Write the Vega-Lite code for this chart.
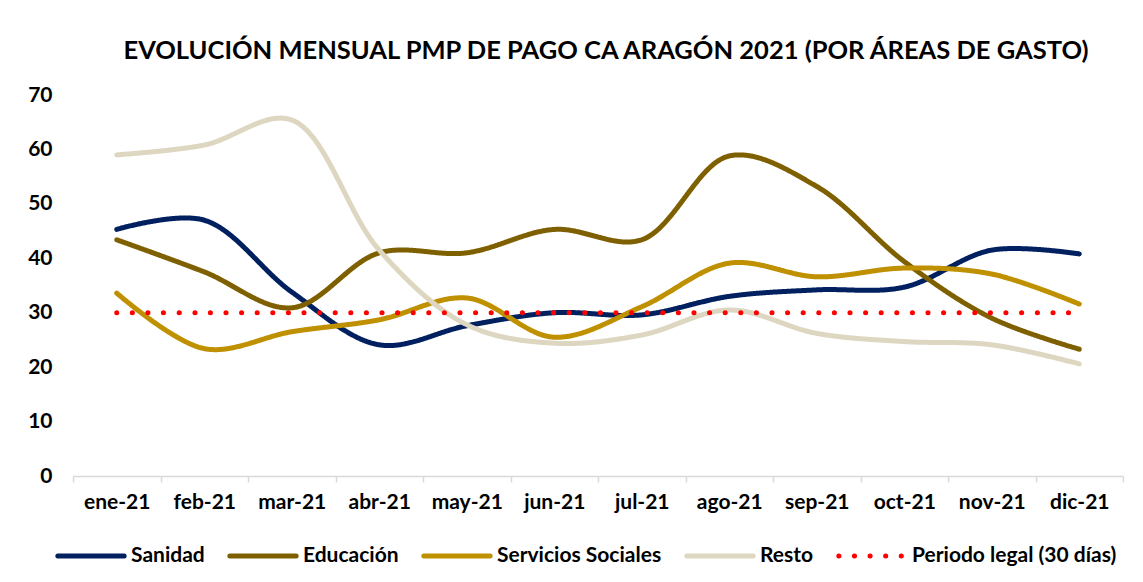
{
  "$schema": "https://vega.github.io/schema/vega-lite/v6.json",
  "width": 1050,
  "height": 381,
  "autosize": {"type": "none"},
  "padding": {"left": 73, "top": 95, "right": 20, "bottom": 106},
  "background": "white",
  "title": {
    "text": "EVOLUCIÓN MENSUAL PMP DE PAGO CA ARAGÓN 2021 (POR ÁREAS DE GASTO)",
    "font": "Lato",
    "fontSize": 25.5,
    "fontWeight": "bold",
    "color": "#000000",
    "anchor": "middle",
    "dx": 8,
    "offset": 20
  },
  "config": {
    "view": {"stroke": null},
    "font": "Lato"
  },
  "data": {
    "values": [
      {"mes": "ene-21", "serie": "Sanidad", "valor": 45.3},
      {"mes": "feb-21", "serie": "Sanidad", "valor": 47.0},
      {"mes": "mar-21", "serie": "Sanidad", "valor": 33.8},
      {"mes": "abr-21", "serie": "Sanidad", "valor": 24.1},
      {"mes": "may-21", "serie": "Sanidad", "valor": 27.6},
      {"mes": "jun-21", "serie": "Sanidad", "valor": 30.0},
      {"mes": "jul-21", "serie": "Sanidad", "valor": 29.6},
      {"mes": "ago-21", "serie": "Sanidad", "valor": 33.0},
      {"mes": "sep-21", "serie": "Sanidad", "valor": 34.2},
      {"mes": "oct-21", "serie": "Sanidad", "valor": 34.7},
      {"mes": "nov-21", "serie": "Sanidad", "valor": 41.5},
      {"mes": "dic-21", "serie": "Sanidad", "valor": 40.8},
      {"mes": "ene-21", "serie": "Educación", "valor": 43.4},
      {"mes": "feb-21", "serie": "Educación", "valor": 37.5},
      {"mes": "mar-21", "serie": "Educación", "valor": 30.9},
      {"mes": "abr-21", "serie": "Educación", "valor": 41.0},
      {"mes": "may-21", "serie": "Educación", "valor": 41.0},
      {"mes": "jun-21", "serie": "Educación", "valor": 45.3},
      {"mes": "jul-21", "serie": "Educación", "valor": 43.4},
      {"mes": "ago-21", "serie": "Educación", "valor": 58.8},
      {"mes": "sep-21", "serie": "Educación", "valor": 53.2},
      {"mes": "oct-21", "serie": "Educación", "valor": 39.4},
      {"mes": "nov-21", "serie": "Educación", "valor": 29.0},
      {"mes": "dic-21", "serie": "Educación", "valor": 23.3},
      {"mes": "ene-21", "serie": "Servicios Sociales", "valor": 33.6},
      {"mes": "feb-21", "serie": "Servicios Sociales", "valor": 23.4},
      {"mes": "mar-21", "serie": "Servicios Sociales", "valor": 26.5},
      {"mes": "abr-21", "serie": "Servicios Sociales", "valor": 28.7},
      {"mes": "may-21", "serie": "Servicios Sociales", "valor": 32.7},
      {"mes": "jun-21", "serie": "Servicios Sociales", "valor": 25.5},
      {"mes": "jul-21", "serie": "Servicios Sociales", "valor": 31.1},
      {"mes": "ago-21", "serie": "Servicios Sociales", "valor": 39.1},
      {"mes": "sep-21", "serie": "Servicios Sociales", "valor": 36.6},
      {"mes": "oct-21", "serie": "Servicios Sociales", "valor": 38.2},
      {"mes": "nov-21", "serie": "Servicios Sociales", "valor": 37.1},
      {"mes": "dic-21", "serie": "Servicios Sociales", "valor": 31.6},
      {"mes": "ene-21", "serie": "Resto", "valor": 59.0},
      {"mes": "feb-21", "serie": "Resto", "valor": 60.8},
      {"mes": "mar-21", "serie": "Resto", "valor": 65.4},
      {"mes": "abr-21", "serie": "Resto", "valor": 41.5},
      {"mes": "may-21", "serie": "Resto", "valor": 27.8},
      {"mes": "jun-21", "serie": "Resto", "valor": 24.4},
      {"mes": "jul-21", "serie": "Resto", "valor": 25.9},
      {"mes": "ago-21", "serie": "Resto", "valor": 30.5},
      {"mes": "sep-21", "serie": "Resto", "valor": 26.2},
      {"mes": "oct-21", "serie": "Resto", "valor": 24.7},
      {"mes": "nov-21", "serie": "Resto", "valor": 24.1},
      {"mes": "dic-21", "serie": "Resto", "valor": 20.6},
      {"mes": "ene-21", "serie": "Periodo legal (30 días)", "valor": 30},
      {"mes": "feb-21", "serie": "Periodo legal (30 días)", "valor": 30},
      {"mes": "mar-21", "serie": "Periodo legal (30 días)", "valor": 30},
      {"mes": "abr-21", "serie": "Periodo legal (30 días)", "valor": 30},
      {"mes": "may-21", "serie": "Periodo legal (30 días)", "valor": 30},
      {"mes": "jun-21", "serie": "Periodo legal (30 días)", "valor": 30},
      {"mes": "jul-21", "serie": "Periodo legal (30 días)", "valor": 30},
      {"mes": "ago-21", "serie": "Periodo legal (30 días)", "valor": 30},
      {"mes": "sep-21", "serie": "Periodo legal (30 días)", "valor": 30},
      {"mes": "oct-21", "serie": "Periodo legal (30 días)", "valor": 30},
      {"mes": "nov-21", "serie": "Periodo legal (30 días)", "valor": 30},
      {"mes": "dic-21", "serie": "Periodo legal (30 días)", "valor": 30}
    ]
  },
  "mark": {"type": "line", "interpolate": "catmull-rom", "strokeWidth": 5, "strokeCap": "round"},
  "encoding": {
    "x": {
      "field": "mes",
      "type": "nominal",
      "sort": null,
      "scale": {"type": "band", "paddingInner": 0, "paddingOuter": 0},
      "axis": {
        "title": null,
        "labelAngle": 0,
        "labelFont": "Lato",
        "labelFontSize": 21,
        "labelFontWeight": "bold",
        "labelColor": "#000000",
        "labelPadding": 9,
        "domainColor": "#D9D9D9",
        "domainWidth": 1.5,
        "tickColor": "#D9D9D9",
        "tickWidth": 1.5,
        "tickSize": 6,
        "tickBand": "extent",
        "grid": false
      }
    },
    "y": {
      "field": "valor",
      "type": "quantitative",
      "scale": {"domain": [0, 70], "nice": false},
      "axis": {
        "title": null,
        "values": [0, 10, 20, 30, 40, 50, 60, 70],
        "labelFont": "Lato",
        "labelFontSize": 21,
        "labelFontWeight": "bold",
        "labelColor": "#000000",
        "labelPadding": 21,
        "domain": false,
        "ticks": false,
        "grid": false
      }
    },
    "color": {
      "field": "serie",
      "type": "nominal",
      "sort": null,
      "scale": {
        "domain": ["Sanidad", "Educación", "Servicios Sociales", "Resto", "Periodo legal (30 días)"],
        "range": ["#002060", "#7F6000", "#BF9000", "#DDD6C0", "#FF0000"]
      },
      "legend": {
        "title": null,
        "orient": "none",
        "legendX": -18,
        "legendY": 425,
        "direction": "horizontal",
        "labelFont": "Lato",
        "labelFontSize": 21,
        "labelFontWeight": "bold",
        "labelColor": "#000000",
        "labelLimit": 400,
        "symbolType": "stroke",
        "symbolSize": 4400,
        "symbolStrokeWidth": 5,
        "columnPadding": 14,
        "labelOffset": 4,
        "encode": {
          "symbols": {
            "update": {
              "size": {"value": 4400},
              "strokeWidth": {"value": 5},
              "strokeCap": {"value": "round"},
              "strokeDash": {"signal": "datum.value === 'Periodo legal (30 días)' ? [0.1, 16.5] : [1, 0]"}
            }
          }
        }
      }
    },
    "strokeDash": {
      "field": "serie",
      "type": "nominal",
      "sort": null,
      "scale": {
        "domain": ["Sanidad", "Educación", "Servicios Sociales", "Resto", "Periodo legal (30 días)"],
        "range": [[1, 0], [1, 0], [1, 0], [1, 0], [0.1, 15.5]]
      },
      "legend": {
        "title": null,
        "orient": "none",
        "legendX": -18,
        "legendY": 425,
        "direction": "horizontal",
        "labelFont": "Lato",
        "labelFontSize": 21,
        "labelFontWeight": "bold",
        "labelColor": "#000000",
        "labelLimit": 400,
        "symbolType": "stroke",
        "symbolSize": 4400,
        "symbolStrokeWidth": 5,
        "columnPadding": 14,
        "labelOffset": 4,
        "encode": {
          "symbols": {
            "update": {
              "size": {"value": 4400},
              "strokeWidth": {"value": 5},
              "strokeCap": {"value": "round"},
              "strokeDash": {"signal": "datum.value === 'Periodo legal (30 días)' ? [0.1, 16.5] : [1, 0]"}
            }
          }
        }
      }
    },
    "strokeWidth": {
      "field": "serie",
      "type": "nominal",
      "sort": null,
      "scale": {
        "domain": ["Sanidad", "Educación", "Servicios Sociales", "Resto", "Periodo legal (30 días)"],
        "range": [5, 5, 5, 5, 7]
      },
      "legend": null
    }
  }
}
